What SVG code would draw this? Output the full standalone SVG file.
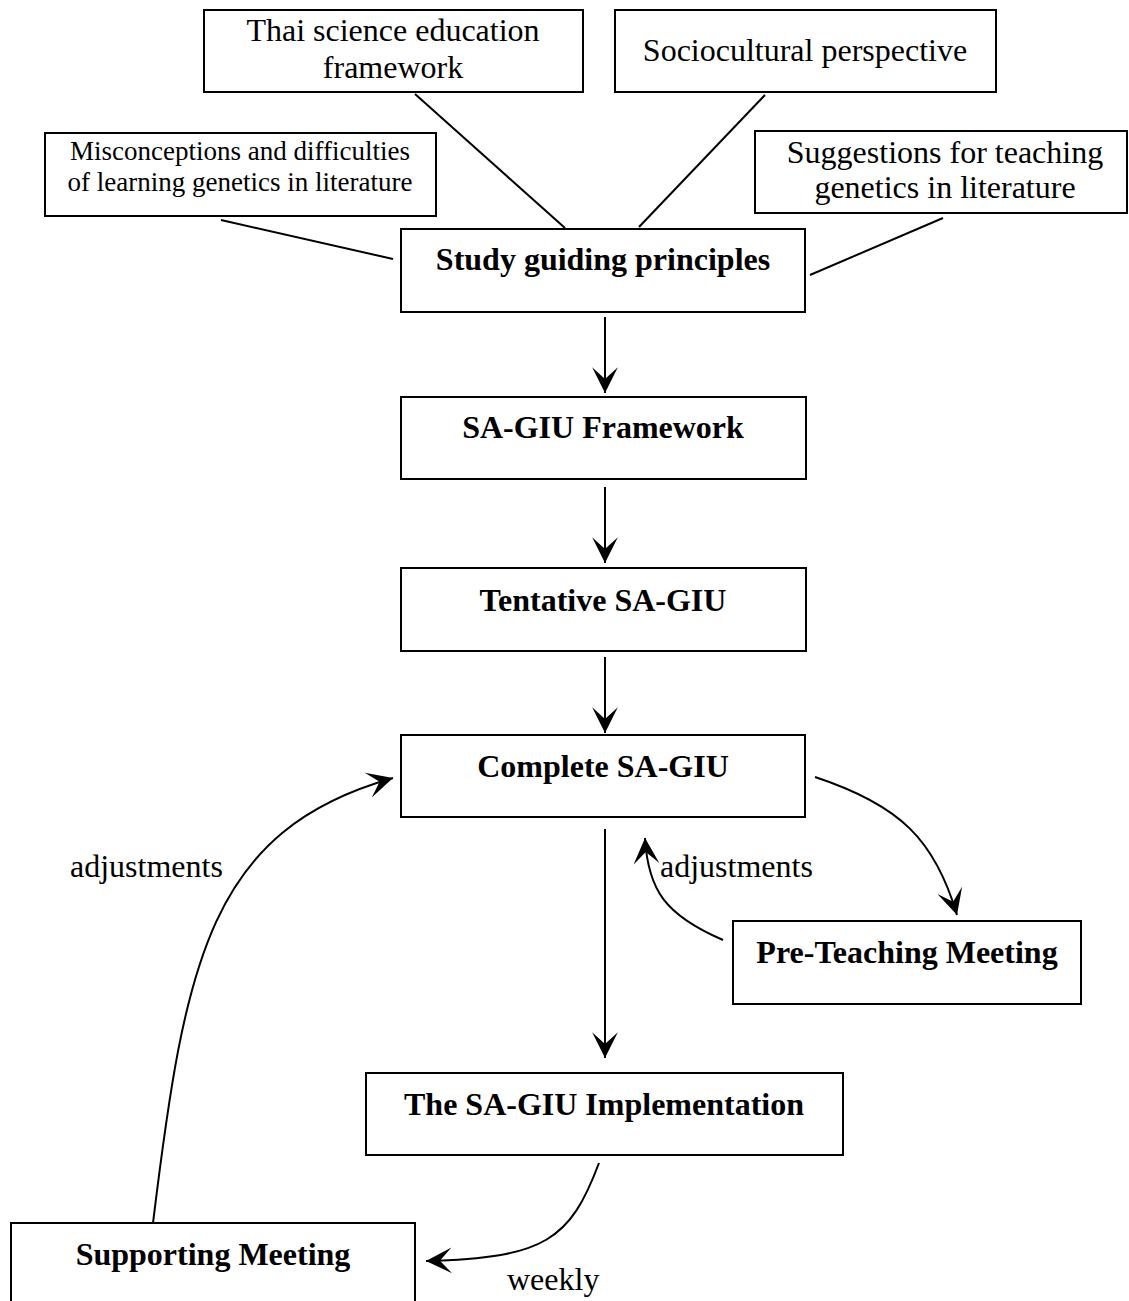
<svg xmlns="http://www.w3.org/2000/svg" width="1129" height="1301" viewBox="0 0 1129 1301">
<style>
.box{fill:#fff;stroke:#000;stroke-width:2}
.t{font-family:"Liberation Serif","Times New Roman",serif;font-size:32px;fill:#000;text-anchor:middle}
.b{font-weight:bold}
.s{font-size:27px}
.lbl{font-family:"Liberation Serif","Times New Roman",serif;font-size:32px;fill:#000}
.ln{stroke:#000;stroke-width:2;fill:none}
</style>
<defs>
<marker id="ah" markerUnits="userSpaceOnUse" markerWidth="30" markerHeight="30" viewBox="-26 -13 28 26" refX="0" refY="0" orient="auto">
<path d="M0,0 L-24,-12 L-13,0 L-24,12 Z" fill="#000"/>
</marker>
</defs>
<rect width="1129" height="1301" fill="#fff"/>
<g id="connectors">
<line class="ln" x1="415" y1="94" x2="565" y2="228"/>
<line class="ln" x1="765" y1="95" x2="639" y2="227"/>
<line class="ln" x1="221" y1="220" x2="393" y2="259"/>
<line class="ln" x1="943" y1="218" x2="810" y2="275"/>
<line class="ln" x1="605" y1="317" x2="605" y2="393" marker-end="url(#ah)"/>
<line class="ln" x1="605" y1="487" x2="605" y2="563" marker-end="url(#ah)"/>
<line class="ln" x1="605" y1="657" x2="605" y2="733" marker-end="url(#ah)"/>
<line class="ln" x1="605" y1="829" x2="605" y2="1058" marker-end="url(#ah)"/>
<path class="ln" d="M815,777 C900,805 935,840 957,915" marker-end="url(#ah)"/>
<path class="ln" d="M723,940 C665,915 648,890 645,838" marker-end="url(#ah)"/>
<path class="ln" d="M599,1163 C570,1240 545,1258 426,1261" marker-end="url(#ah)"/>
<path class="ln" d="M153,1223 C185,960 210,830 393,778" marker-end="url(#ah)"/>
<text class="lbl" x="70" y="877">adjustments</text>
<text class="lbl" x="660" y="877">adjustments</text>
<text class="lbl" x="507" y="1290">weekly</text>
</g>
<g id="thai">
<rect class="box" x="204" y="10" width="379" height="82"/>
<text class="t" x="393" y="41">Thai science education</text>
<text class="t" x="393" y="78">framework</text>
</g>
<g id="socio">
<rect class="box" x="615" y="10" width="381" height="82"/>
<text class="t" x="805" y="61">Sociocultural perspective</text>
</g>
<g id="misconceptions">
<rect class="box" x="45" y="133" width="391" height="83"/>
<text class="t s" x="240" y="160">Misconceptions and difficulties</text>
<text class="t s" x="240" y="191">of learning genetics in literature</text>
</g>
<g id="suggestions">
<rect class="box" x="755" y="131" width="372" height="82"/>
<text class="t" x="945" y="163">Suggestions for teaching</text>
<text class="t" x="945" y="198">genetics in literature</text>
</g>
<g id="study">
<rect class="box" x="401" y="229" width="404" height="83"/>
<text class="t b" x="603" y="270">Study guiding principles</text>
</g>
<g id="framework">
<rect class="box" x="401" y="397" width="405" height="82"/>
<text class="t b" x="603" y="438">SA-GIU Framework</text>
</g>
<g id="tentative">
<rect class="box" x="401" y="568" width="405" height="83"/>
<text class="t b" x="603" y="611">Tentative SA-GIU</text>
</g>
<g id="complete">
<rect class="box" x="401" y="735" width="404" height="82"/>
<text class="t b" x="603" y="777">Complete SA-GIU</text>
</g>
<g id="preteaching">
<rect class="box" x="733" y="921" width="348" height="83"/>
<text class="t b" x="907" y="963">Pre-Teaching Meeting</text>
</g>
<g id="implementation">
<rect class="box" x="366" y="1073" width="477" height="82"/>
<text class="t b" x="604" y="1115">The SA-GIU Implementation</text>
</g>
<g id="supporting">
<rect class="box" x="11" y="1223" width="404" height="90"/>
<text class="t b" x="213" y="1265">Supporting Meeting</text>
</g>
</svg>
